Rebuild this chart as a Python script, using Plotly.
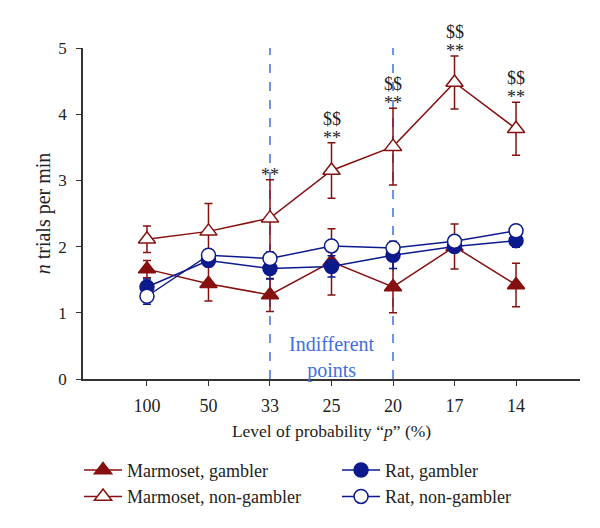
import plotly.graph_objects as go

categories = ["100", "50", "33", "25", "20", "17", "14"]
x_pos = list(range(len(categories)))

marm_gambler = [1.66, 1.44, 1.27, 1.77, 1.39, 2.00, 1.42]
marm_gambler_err = [0.13, 0.26, 0.25, 0.50, 0.39, 0.34, 0.33]
marm_nongambler = [2.11, 2.23, 2.43, 3.15, 3.51, 4.48, 3.78]
marm_nongambler_err = [0.20, 0.42, 0.58, 0.42, 0.58, 0.40, 0.40]
rat_gambler = [1.39, 1.79, 1.67, 1.70, 1.87, 2.00, 2.09]
rat_gambler_err = [0.12, 0.08, 0.16, 0.16, 0.20, 0.08, 0.10]
rat_nongambler = [1.25, 1.87, 1.82, 2.01, 1.98, 2.08, 2.24]
rat_nongambler_err = [0.12, 0.08, 0.10, 0.08, 0.10, 0.08, 0.06]

indifferent_cats = ["33", "20"]
star_cats = ["33", "25", "20", "17", "14"]      # "**" marks
dollar_cats = ["25", "20", "17", "14"]           # "$$" marks

RED = "#861010"
BLUE = "#0c1a8c"
DASH = "#3f70e0"
TEXT = "#222222"
FONT = "Liberation Serif"

fig = go.Figure()

def add(name, y, err, color, symbol, fill):
    fig.add_trace(go.Scatter(
        x=x_pos, y=y, name=name, mode="lines+markers",
        line=dict(color=color, width=1.5),
        marker=dict(symbol=symbol, size=15 if "triangle" in symbol else 14,
                    color=fill, line=dict(color=color, width=1.5)),
        error_y=dict(type="data", array=err, color=color, thickness=1.5, width=4),
        cliponaxis=False,
    ))

add("Marmoset, gambler", marm_gambler, marm_gambler_err, RED, "triangle-up", RED)
add("Rat, gambler", rat_gambler, rat_gambler_err, BLUE, "circle", BLUE)
add("Marmoset, non-gambler", marm_nongambler, marm_nongambler_err, RED, "triangle-up", "white")
add("Rat, non-gambler", rat_nongambler, rat_nongambler_err, BLUE, "circle", "white")

for c in indifferent_cats:
    xi = categories.index(c)
    fig.add_shape(type="line", xref="x", yref="y", x0=xi, x1=xi, y0=0, y1=5.02,
                  line=dict(color=DASH, width=1.5, dash="dash"), layer="below")

for c in star_cats:
    i = categories.index(c)
    top = marm_nongambler[i] + marm_nongambler_err[i]
    fig.add_annotation(x=i, y=top, text="**", showarrow=False, yanchor="middle",
                       yshift=5, font=dict(family=FONT, size=18, color=TEXT))
for c in dollar_cats:
    i = categories.index(c)
    top = marm_nongambler[i] + marm_nongambler_err[i]
    fig.add_annotation(x=i, y=top, text="$$", showarrow=False, yanchor="middle",
                       yshift=24, font=dict(family=FONT, size=18, color=TEXT))

fig.add_annotation(x=categories.index("25"), y=0.33, text="Indifferent<br>points",
                   showarrow=False, yanchor="middle",
                   font=dict(family=FONT, size=20, color=DASH))

# page body has an 8px default margin: the figure is sized/offset to compensate
fig.update_layout(
    width=592, height=520,
    margin=dict(l=75, r=20, t=40, b=149, autoexpand=False),
    paper_bgcolor="white", plot_bgcolor="white",
    font=dict(family=FONT, size=17, color=TEXT),
    showlegend=True,
    legend=dict(orientation="h", x=-0.008, xanchor="left", y=-0.22, yanchor="top",
                entrywidth=205, itemwidth=38, font=dict(family=FONT, size=18, color=TEXT),
                tracegroupgap=0, bgcolor="rgba(0,0,0,0)"),
    xaxis=dict(range=[-1.04, 7.04], tickvals=x_pos, ticktext=categories,
               showline=True, linecolor="#333", linewidth=1.5, ticks="outside",
               ticklen=5, tickcolor="#333", showgrid=False, zeroline=False,
               tickfont=dict(size=18), ticklabelstandoff=5,
               title=dict(text="Level of probability “<i>p</i>” (%)", font=dict(size=17.5), standoff=9)),
    yaxis=dict(range=[0, 5], tickvals=[0, 1, 2, 3, 4, 5], showline=True,
               linecolor="#333", linewidth=1.5, ticks="outside", ticklen=5,
               tickcolor="#333", showgrid=False, zeroline=False,
               tickfont=dict(size=17), ticklabelstandoff=6,
               title=dict(text="<i>n</i> trials per min", font=dict(size=20), standoff=2)),
)

fig.write_html("out.html")
